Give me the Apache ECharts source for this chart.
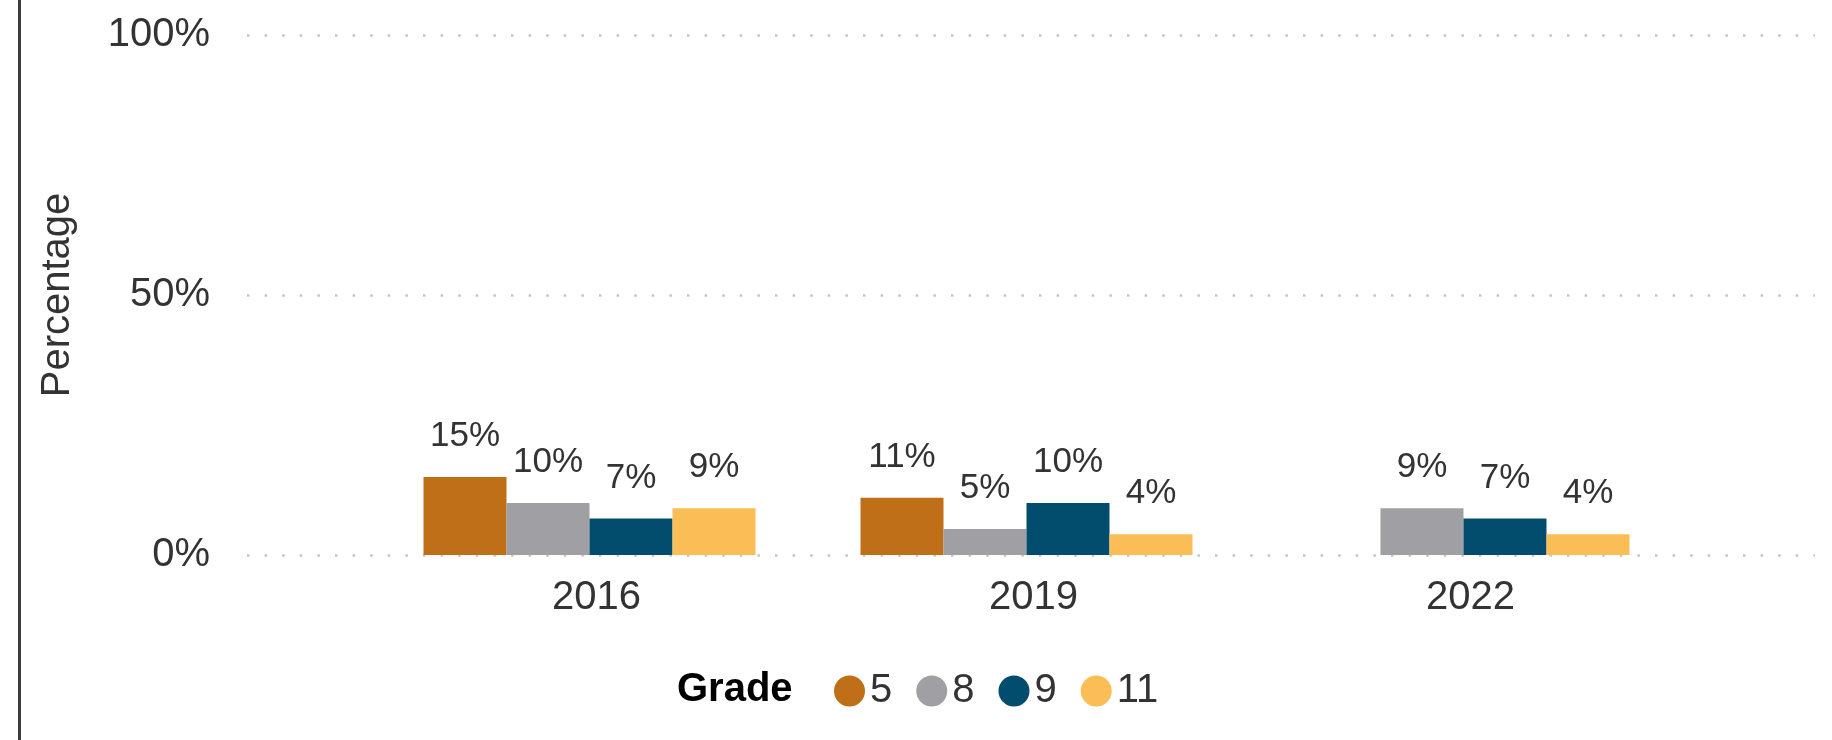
<!DOCTYPE html>
<html>
<head>
<meta charset="utf-8">
<title>Grade percentage</title>
<script src="https://cdn.jsdelivr.net/npm/echarts@6/dist/echarts.min.js"></script>
<style>
  html, body { margin: 0; padding: 0; background: #fff; }
  #chart { width: 1832px; height: 740px; }
</style>
</head>
<body>
<div id="chart"></div>
<script>
// data
const years = ["2016", "2019", "2022"];
const grades = ["5", "8", "9", "11"];
const grade5 = [15, 11, null];
const grade8 = [10, 5, 9];
const grade9 = [7, 10, 7];
const grade11 = [9, 4, 4];
const yTicks = [0, 50, 100];

const colors = ["#bf6f18", "#a0a0a4", "#024c6d", "#fbbe56"];
const font = "'Liberation Sans', Arial, sans-serif";
const textColor = "#333333";

let chart = echarts.init(document.getElementById("chart"));

const seriesData = [grade5, grade8, grade9, grade11];
const series = grades.map(function (g, i) {
  return {
    name: g,
    type: "bar",
    xAxisIndex: 1,
    yAxisIndex: 1,
    data: seriesData[i],
    barWidth: 83,
    barGap: "0%",
    itemStyle: { color: colors[i] },
    label: {
      show: true,
      position: "top",
      distance: 23,
      formatter: "{c}%",
      fontFamily: font,
      fontSize: 35,
      color: textColor
    }
  };
});

chart.setOption({
  animation: false,
  color: colors,
  title: {
    text: "Grade",
    left: 677,
    top: 670,
    padding: 0,
    textStyle: { fontFamily: font, fontSize: 40, fontWeight: "bold", color: "#000" }
  },
  legend: {
    data: grades,
    left: 834,
    top: 671,
    padding: 0,
    icon: "circle",
    itemWidth: 31,
    itemHeight: 31,
    itemGap: 24,
    textStyle: { fontFamily: font, fontSize: 40, color: textColor }
  },
  // grid 0 carries the dotted gridlines and y labels, grid 1 the bars
  grid: [
    { left: 247, right: 17, top: 35, bottom: 185 },
    { left: 371, right: 150, top: 35, bottom: 185 }
  ],
  xAxis: [
    { gridIndex: 0, type: "value", show: false },
    {
      gridIndex: 1,
      type: "category",
      data: years,
      axisLine: { show: false },
      axisTick: { show: false },
      axisLabel: {
        margin: 23,
        fontFamily: font,
        fontSize: 40,
        color: textColor,
        padding: [0, 0, 0, 14]
      }
    }
  ],
  yAxis: [
    {
      gridIndex: 0,
      type: "value",
      min: yTicks[0],
      max: yTicks[yTicks.length - 1],
      interval: 50,
      name: "Percentage",
      nameLocation: "middle",
      nameGap: 169,
      nameTextStyle: { fontFamily: font, fontSize: 40, color: textColor },
      axisLine: { show: false },
      axisTick: { show: false },
      axisLabel: {
        margin: 37,
        formatter: "{value}%",
        fontFamily: font,
        fontSize: 40,
        color: textColor
      },
      splitLine: {
        show: true,
        lineStyle: { color: "#c4c4c4", width: 2.5, type: [2.5, 15.1] }
      }
    },
    {
      gridIndex: 1,
      type: "value",
      min: yTicks[0],
      max: yTicks[yTicks.length - 1],
      show: false,
      splitLine: { show: false }
    }
  ],
  graphic: [
    {
      type: "rect",
      left: 18,
      top: 0,
      shape: { width: 3, height: 740 },
      style: { fill: "#3c3c3c" }
    }
  ],
  series: series
});
</script>
</body>
</html>
